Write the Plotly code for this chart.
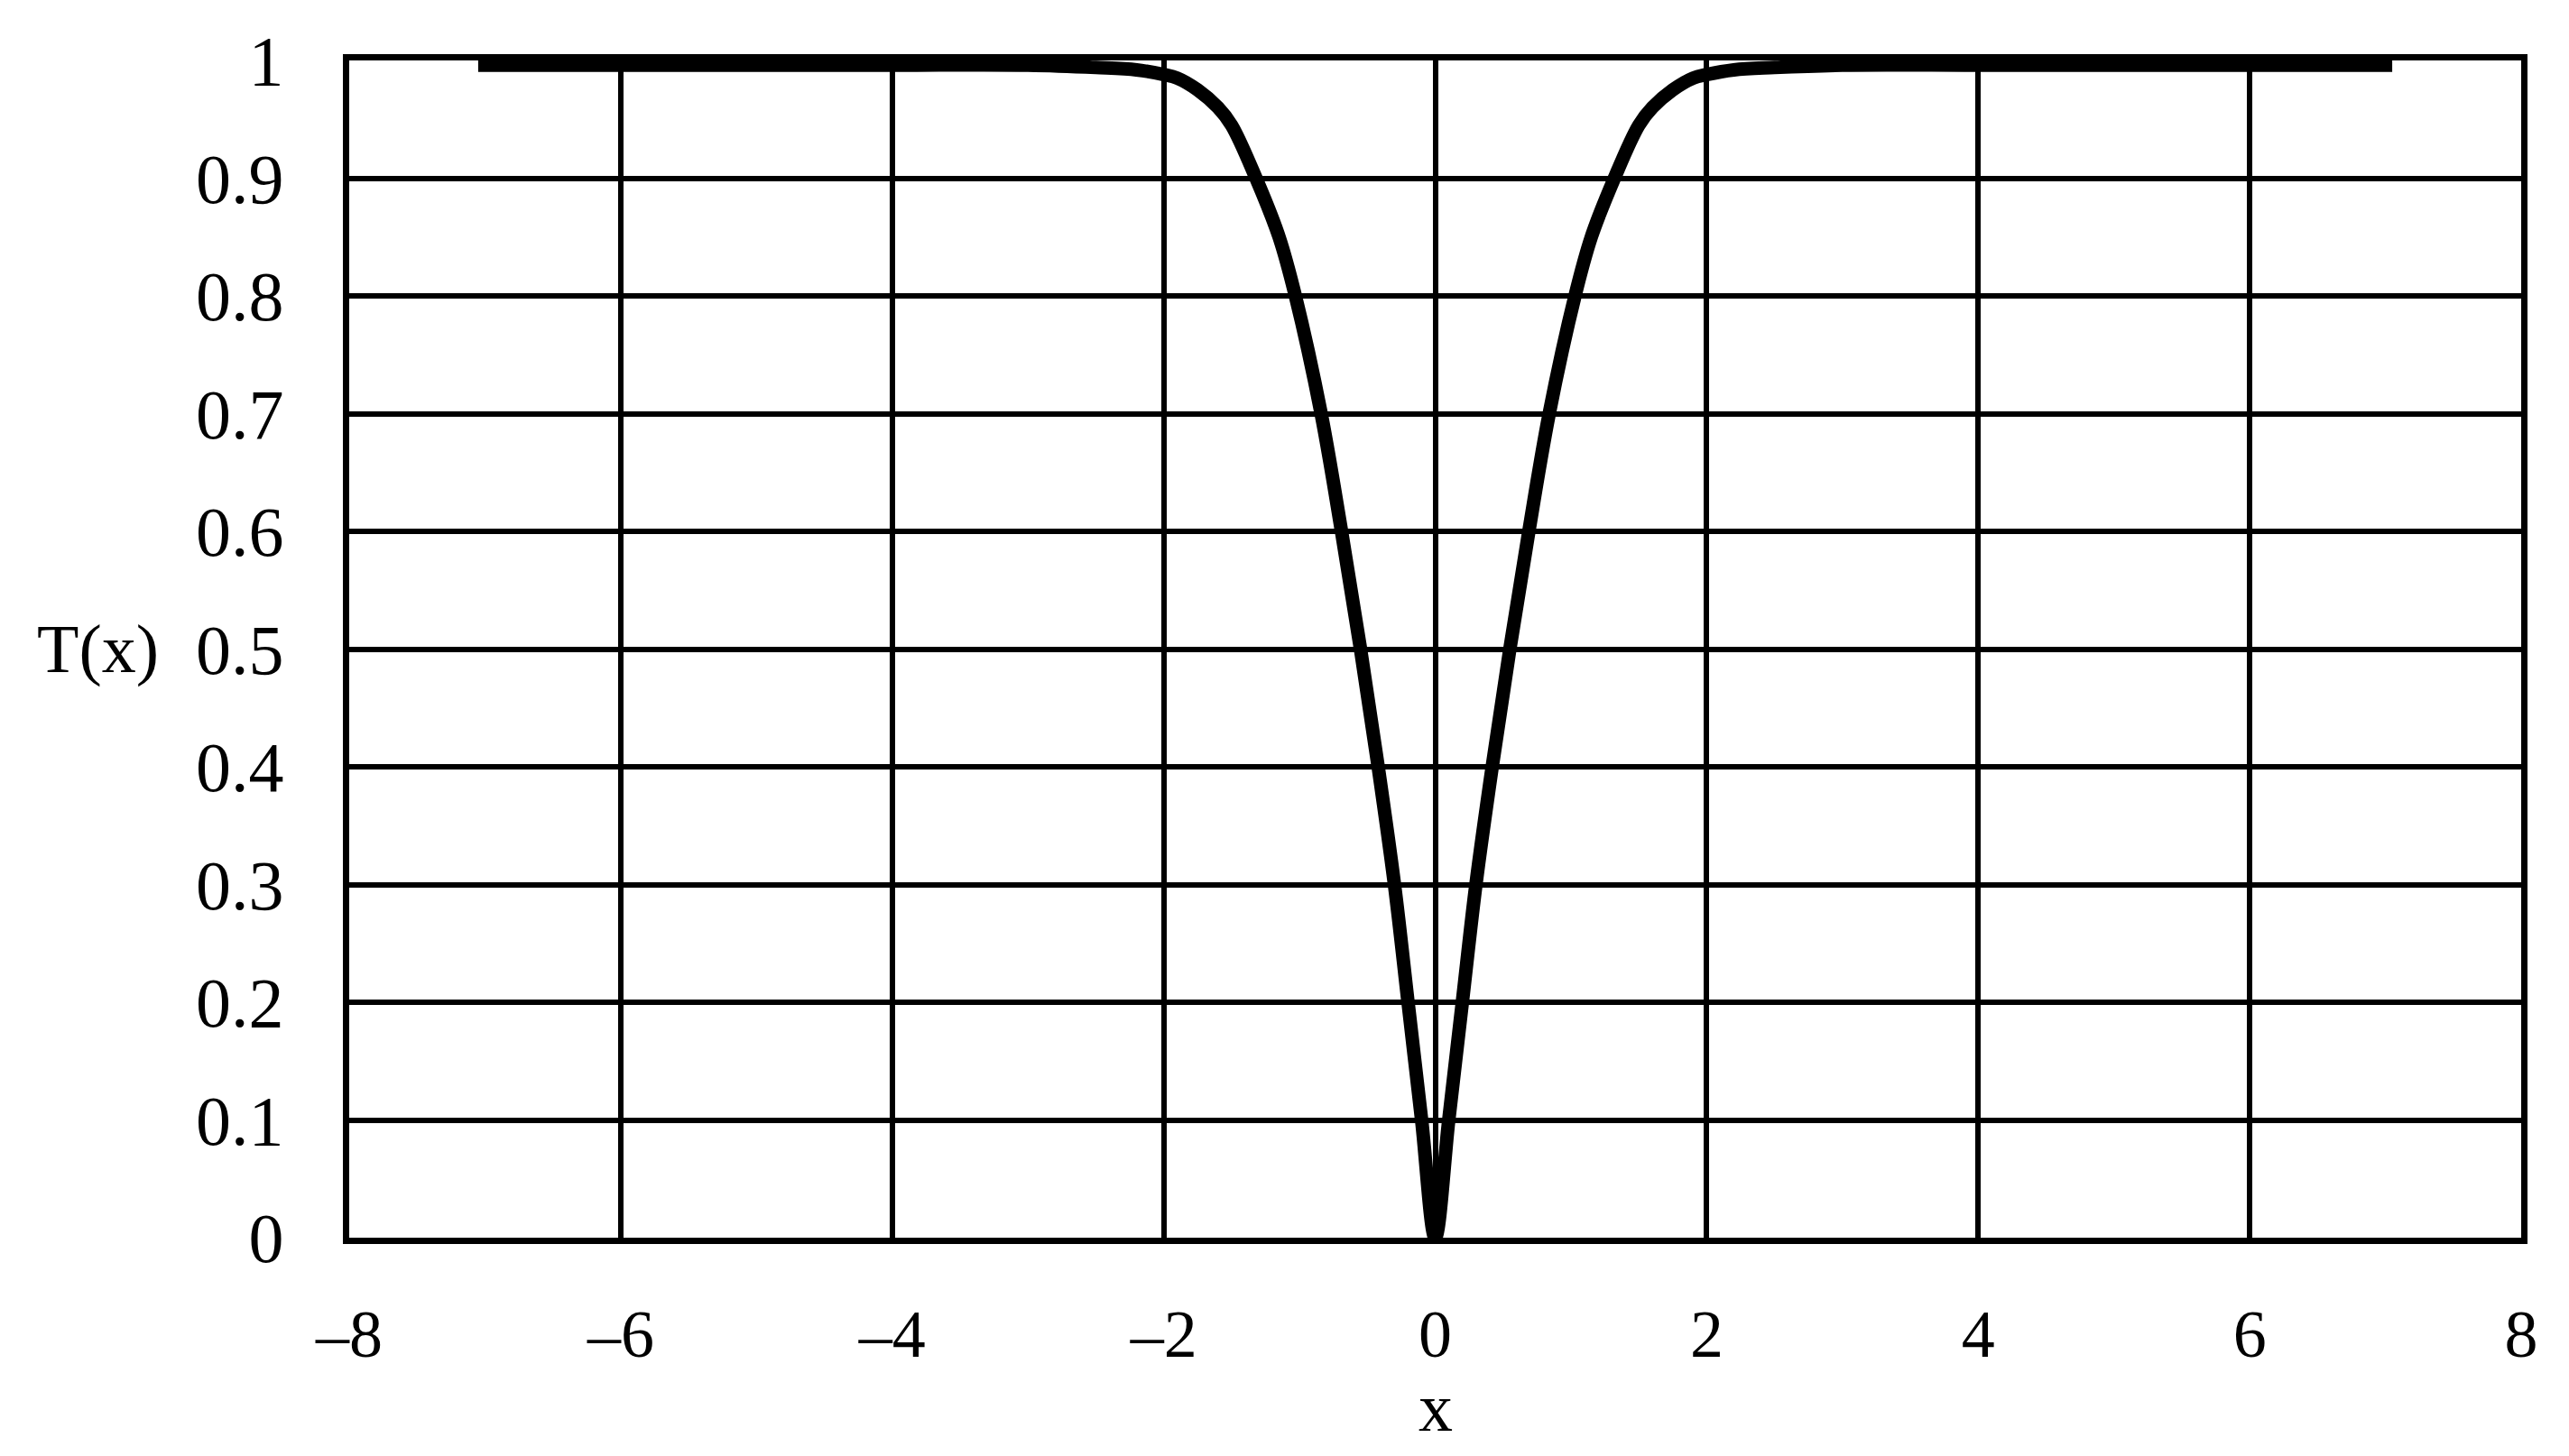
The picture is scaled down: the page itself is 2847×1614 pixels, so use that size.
import plotly.graph_objects as go

# curve T(x)
x_vals = [-7.05, -6.0, -5.0, -4.0, -3.0, -2.5, -2.2, -2.0, -1.9, -1.75, -1.6, -1.5,
          -1.32, -1.15, -1.03, -0.84, -0.69, -0.55, -0.42, -0.3, -0.2, -0.1, 0.0,
          0.1, 0.2, 0.3, 0.42, 0.55, 0.69, 0.84, 1.03, 1.15, 1.32, 1.5, 1.6,
          1.75, 1.9, 2.0, 2.2, 2.5, 3.0, 4.0, 5.0, 6.0, 7.05]
t_vals = [0.996, 0.996, 0.996, 0.996, 0.996, 0.994, 0.992, 0.988, 0.985, 0.975, 0.96, 0.945,
          0.9, 0.85, 0.8, 0.7, 0.6, 0.5, 0.4, 0.3, 0.2, 0.1, 0.0,
          0.1, 0.2, 0.3, 0.4, 0.5, 0.6, 0.7, 0.8, 0.85, 0.9, 0.945, 0.96,
          0.975, 0.985, 0.988, 0.992, 0.994, 0.996, 0.996, 0.996, 0.996, 0.996]

x_ticks = [-8, -6, -4, -2, 0, 2, 4, 6, 8]
x_tick_text = ['–8', '–6', '–4', '–2', '0', '2', '4', '6', '8']
y_ticks = [0, 0.1, 0.2, 0.3, 0.4, 0.5, 0.6, 0.7, 0.8, 0.9, 1]
y_tick_text = ['0', '0.1', '0.2', '0.3', '0.4', '0.5', '0.6', '0.7', '0.8', '0.9', '1']

FONT = 'Liberation Serif'

fig = go.Figure()
fig.add_trace(go.Scatter(
    x=x_vals, y=t_vals, mode='lines',
    line=dict(color='black', width=15, shape='spline', smoothing=1.0),
    showlegend=False
))

fig.update_xaxes(
    range=[-8, 8], tickvals=x_ticks, ticktext=x_tick_text,
    showgrid=True, gridcolor='black', gridwidth=6, zeroline=False,
    showline=True, linecolor='black', linewidth=7, mirror=True,
    ticks='', ticklabelstandoff=36,
    tickfont=dict(family=FONT, size=74, color='black')
)
fig.update_yaxes(
    range=[0, 1], tickvals=y_ticks, ticktext=y_tick_text,
    showgrid=True, gridcolor='black', gridwidth=6, zeroline=False,
    showline=True, linecolor='black', linewidth=7, mirror=True,
    ticks='', ticklabelstandoff=50,
    tickfont=dict(family=FONT, size=78, color='black')
)

fig.add_annotation(text='T(x)', xref='paper', yref='y', x=-0.1155, y=0.5,
                   xanchor='center', yanchor='middle', showarrow=False,
                   font=dict(family=FONT, size=76, color='black'))
fig.add_annotation(text='x', xref='x', yref='paper', x=0, y=-0.1438,
                   xanchor='center', yanchor='middle', showarrow=False,
                   font=dict(family=FONT, size=76, color='black'))

# page body adds ~8px, so margins are trimmed to land the plot where the reference has it
fig.update_layout(
    width=2847, height=1614,
    margin=dict(l=379, r=61, t=59, b=250),
    plot_bgcolor='white', paper_bgcolor='white'
)

fig.write_html("out.html")
